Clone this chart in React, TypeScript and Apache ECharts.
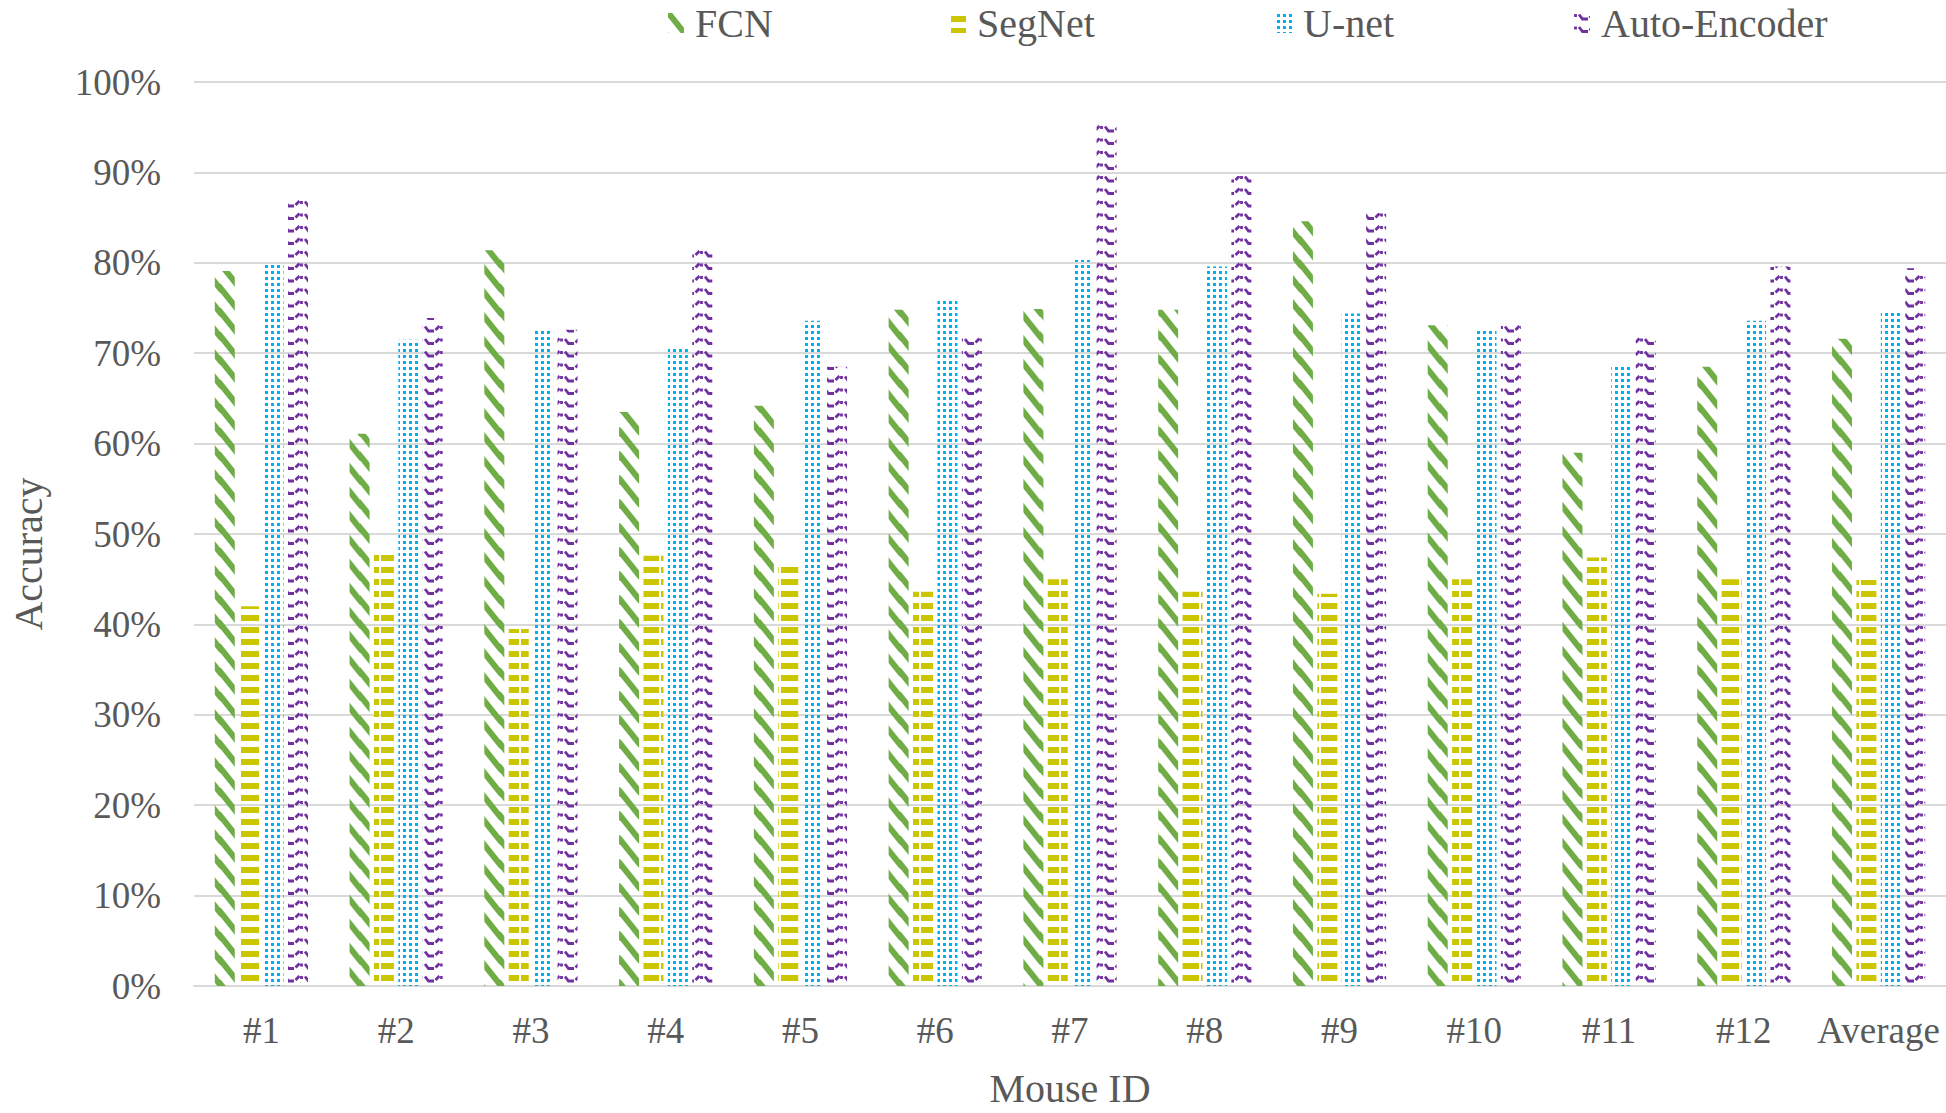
import React, { useEffect, useRef } from "react";
import * as echarts from "echarts";

const categories = ["#1", "#2", "#3", "#4", "#5", "#6", "#7", "#8", "#9", "#10", "#11", "#12", "Average"];
const seriesNames = ["FCN", "SegNet", "U-net", "Auto-Encoder"];
const fcnValues = [79.1, 61.1, 81.4, 63.5, 64.2, 74.8, 74.9, 74.8, 84.6, 73.1, 59.0, 68.5, 71.6];
const segnetValues = [42.0, 47.8, 39.5, 47.6, 46.4, 43.6, 45.0, 43.6, 43.4, 45.0, 47.4, 45.0, 44.9];
const unetValues = [80.1, 71.5, 72.5, 70.8, 73.6, 75.9, 80.3, 79.6, 74.4, 72.8, 68.8, 73.6, 74.6];
const autoEncoderValues = [87.0, 73.9, 72.6, 81.7, 68.5, 72.1, 95.5, 89.6, 85.5, 73.4, 72.1, 79.6, 79.4];

const FONT = "'Liberation Serif', 'Times New Roman', serif";
const TEXT = "#595959";

function makePattern(w: number, h: number, draw: (ctx: CanvasRenderingContext2D) => void) {
  const c = document.createElement("canvas");
  c.width = w;
  c.height = h;
  const ctx = c.getContext("2d") as CanvasRenderingContext2D;
  draw(ctx);
  return { image: c.toDataURL(), repeat: "repeat", imageWidth: w, imageHeight: h };
}

function fcnPattern() {
  return makePattern(20, 24, (ctx) => {
    ctx.strokeStyle = "#70AD47";
    ctx.lineWidth = 6;
    for (const dy of [-24, 0, 24]) {
      ctx.beginPath();
      ctx.moveTo(-2, -3 + dy);
      ctx.lineTo(22, 27 + dy);
      ctx.stroke();
    }
  });
}

function segnetPattern() {
  return makePattern(20, 12, (ctx) => {
    ctx.fillStyle = "#CCC600";
    ctx.fillRect(1, 3, 18, 6);
  });
}

function unetPattern() {
  return makePattern(6, 6, (ctx) => {
    ctx.fillStyle = "#00B0F0";
    ctx.fillRect(1, 1, 3, 3);
  });
}

function aePattern() {
  return makePattern(20, 25, (ctx) => {
    ctx.strokeStyle = "#7030A0";
    ctx.lineWidth = 2.8;
    ctx.lineCap = "butt";
    for (const oy of [0, 12.5]) {
      ctx.beginPath();
      ctx.moveTo(1.5, 1 + oy);
      ctx.lineTo(1.5, 4 + oy);
      ctx.stroke();
      ctx.beginPath();
      ctx.moveTo(5, 1.5 + oy);
      ctx.lineTo(8.5, 6 + oy);
      ctx.lineTo(14, 6 + oy);
      ctx.stroke();
      ctx.beginPath();
      ctx.moveTo(15.5, 5 + oy);
      ctx.lineTo(19.5, 1 + oy);
      ctx.stroke();
    }
  });
}

const legendLefts = [668, 950, 1276, 1574];

export default function App() {
  const ref = useRef<HTMLDivElement>(null);
  useEffect(() => {
    document.body.style.margin = "0";
    if (!ref.current) return;
    const chart = echarts.init(ref.current, undefined, { renderer: "svg" });
    const patterns = [fcnPattern(), segnetPattern(), unetPattern(), aePattern()];
    const values = [fcnValues, segnetValues, unetValues, autoEncoderValues];
    const option: any = {
      animation: false,
      backgroundColor: "#ffffff",
      textStyle: { fontFamily: FONT },
      legend: seriesNames.map((n, i) => ({
        data: [n],
        left: legendLefts[i],
        top: 3,
        padding: 0,
        icon: "rect",
        itemWidth: 16,
        itemHeight: 20,
        selectedMode: false,
        textStyle: { color: TEXT, fontSize: 40, fontFamily: FONT, padding: [0, 0, 0, 6] },
      })),
      grid: { left: 181, right: 0, top: 82, bottom: 118, containLabel: false },
      xAxis: {
        type: "category",
        data: categories,
        axisLine: { lineStyle: { color: "#D9D9D9", width: 2 } },
        axisTick: { show: false },
        axisLabel: { color: TEXT, fontSize: 37, margin: 26, fontFamily: FONT, interval: 0 },
        name: "Mouse ID",
        nameLocation: "middle",
        nameGap: 82,
        nameTextStyle: { color: TEXT, fontSize: 40, fontFamily: FONT },
      },
      yAxis: {
        type: "value",
        min: 0,
        max: 100,
        interval: 10,
        axisLine: { show: false },
        axisTick: { show: false },
        axisLabel: { color: TEXT, fontSize: 37, margin: 33, fontFamily: FONT, formatter: "{value}%" },
        splitLine: { lineStyle: { color: "#D9D9D9", width: 2 } },
        name: "Accuracy",
        nameLocation: "middle",
        nameGap: 146,
        nameTextStyle: { color: TEXT, fontSize: 40, fontFamily: FONT, padding: [0, 40, 0, 0] },
      },
      series: seriesNames.map((n, i) => ({
        name: n,
        type: "bar",
        data: values[i],
        barWidth: 20,
        barGap: "22%",
        itemStyle: { color: patterns[i] },
      })),
    };
    chart.setOption(option);
    return () => chart.dispose();
  }, []);
  return <div ref={ref} style={{ width: 1946, height: 1113 }} />;
}
